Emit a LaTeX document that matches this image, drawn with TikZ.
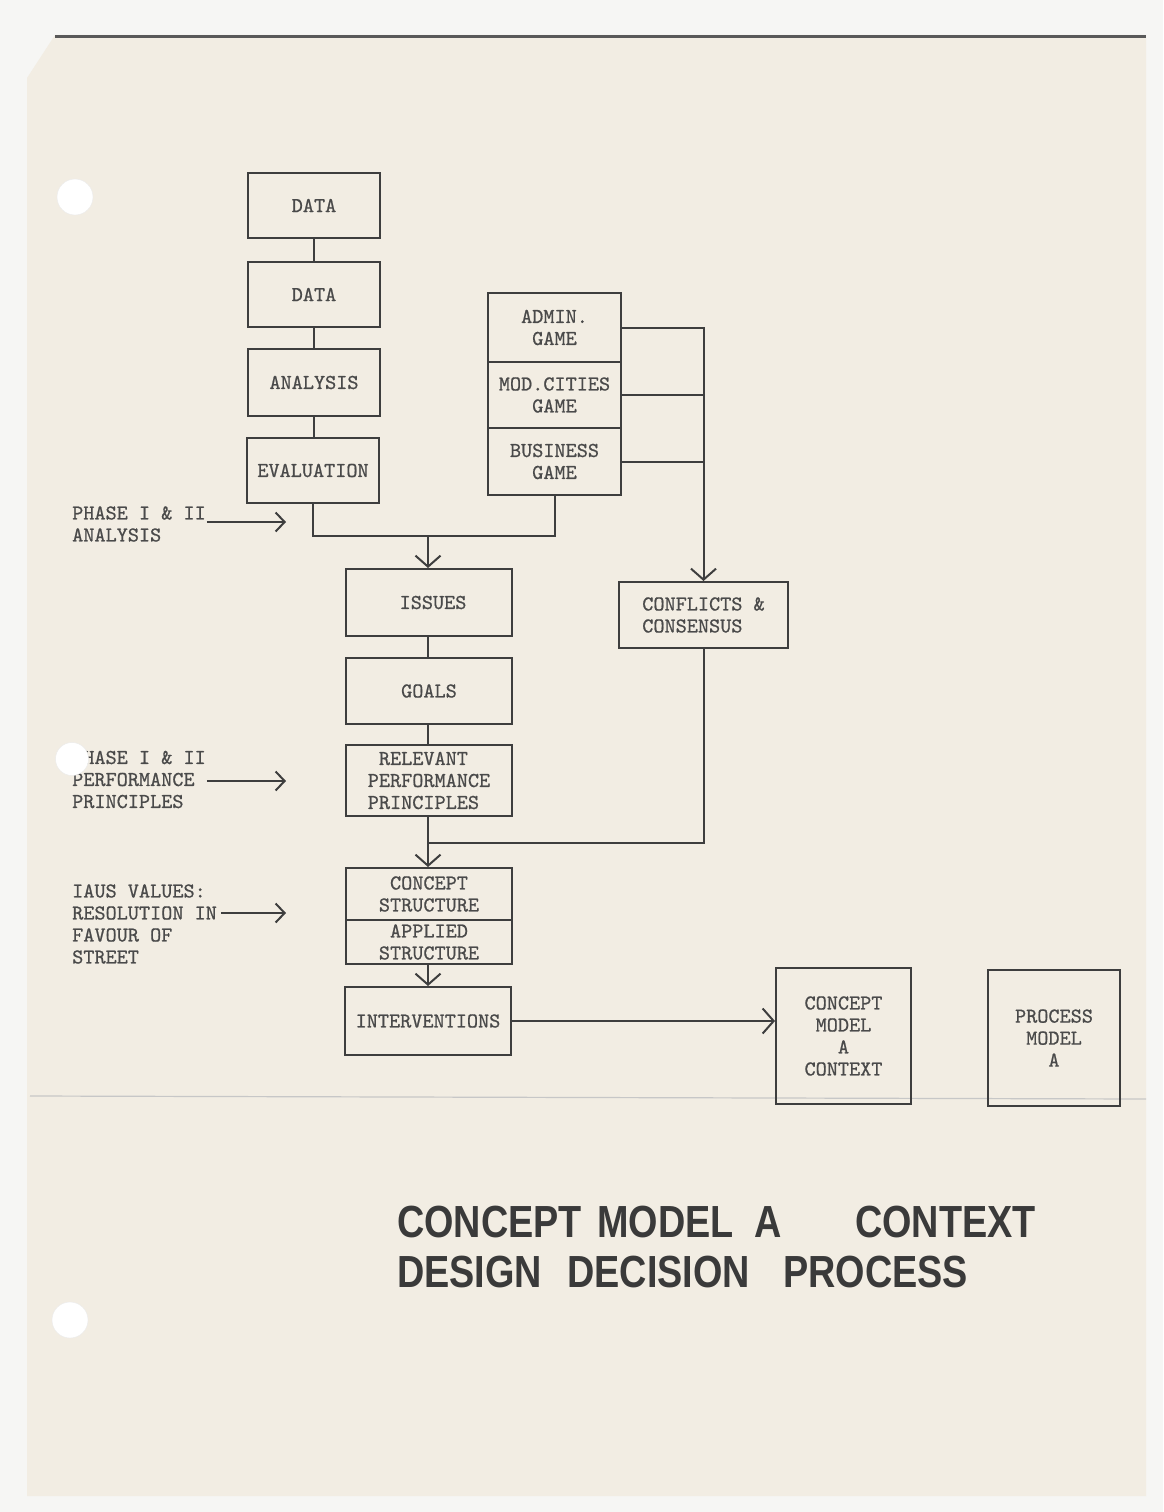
\documentclass[tikz,border=0pt]{standalone}
\usepackage{fontspec}
\newfontfamily\titlefont[FakeStretch=0.84]{Liberation Sans}
\newfontfamily\typefont[FakeBold=0.7]{lmmono10-regular.otf}
\usetikzlibrary{arrows.meta}
\definecolor{paper}{HTML}{F2EDE3}
\definecolor{outside}{HTML}{F6F6F4}
\definecolor{ink}{HTML}{3E3E3E}
\definecolor{tink}{HTML}{4A4A4A}
\definecolor{titleink}{HTML}{3A3A3A}
\newcommand\tyfnt{\typefont\fontsize{21.2}{22}\selectfont}
\begin{document}
\begin{tikzpicture}[x=1pt,y=-1pt,
  box/.style={draw=ink, line width=2pt, inner sep=0pt, align=center, font=\tyfnt, text=tink},
  ln/.style={draw=ink, line width=2pt},
  arr/.style={draw=ink, line width=2pt, -{Straight Barb[length=11pt,width=25pt]}},
  larr/.style={draw=ink, line width=2pt, -{Straight Barb[length=9pt,width=19pt]}},
  lbl/.style={font=\tyfnt, text=tink, align=left, inner sep=0pt, anchor=west},
  ttl/.style={font=\titlefont\bfseries\fontsize{45}{50}\selectfont, text=titleink, inner sep=0pt, anchor=base west}]
% page and paper
\useasboundingbox (0,0) rectangle (1163,1512);
\fill[outside] (0,0) rectangle (1163,1512);
\fill[paper] (55,35) -- (1146,35) -- (1146,1496) -- (27,1496) -- (27,78) -- cycle;
\draw[line width=3pt, color=black!65] (55,37) -- (1146,37);
\draw[line width=1.2pt, color=black!22] (30,1096) -- (1146,1099);
% left column
\node[box, minimum width=132pt, minimum height=65pt] (d1) at (314,205.5) {DATA};
\node[box, minimum width=132pt, minimum height=65pt] (d2) at (314,294.5) {DATA};
\node[box, minimum width=132pt, minimum height=67pt] (an) at (314,382.5) {ANALYSIS};
\node[box, minimum width=132pt, minimum height=65pt] (ev) at (313,470.5) {EVALUATION};
% games stack
\node[box, minimum width=133pt, minimum height=69pt] (g1) at (554.5,327.5) {ADMIN.\\GAME};
\node[box, minimum width=133pt, minimum height=66pt] (g2) at (554.5,395) {MOD.CITIES\\GAME};
\node[box, minimum width=133pt, minimum height=67pt] (g3) at (554.5,461.5) {BUSINESS\\GAME};
% middle column
\node[box, minimum width=166pt, minimum height=67pt] (iss) at (429,602.5) {\hspace*{8pt}ISSUES};
\node[box, minimum width=166pt, minimum height=66pt] (gl) at (429,691) {GOALS};
\node[box, minimum width=166pt, minimum height=71pt, align=left] (rel) at (429,780.5) {\hspace*{0.525em}RELEVANT\\PERFORMANCE\\PRINCIPLES};
\node[box, minimum width=166pt, minimum height=52pt] (cs) at (429,894) {CONCEPT\\STRUCTURE};
\node[box, minimum width=166pt, minimum height=44pt] (as) at (429,942) {APPLIED\\STRUCTURE};
\node[box, minimum width=166pt, minimum height=68pt] (int) at (428,1021) {INTERVENTIONS};
% right column
\node[box, minimum width=169pt, minimum height=66pt, align=left] (cf) at (703.5,615) {CONFLICTS \&\\CONSENSUS};
\node[box, minimum width=135pt, minimum height=136pt] (cm) at (843.5,1036) {CONCEPT\\MODEL\\A\\CONTEXT};
\node[box, minimum width=132pt, minimum height=136pt] (pm) at (1054,1038) {PROCESS\\MODEL\\A};
% left labels
\node[lbl] (l1) at (72,524) {PHASE I \& II\\ANALYSIS};
\node[lbl] (l2) at (72,779.5) {PHASE I \& II\\PERFORMANCE\\PRINCIPLES};
\node[lbl] (l3) at (72,924) {IAUS VALUES:\\RESOLUTION IN\\FAVOUR OF\\STREET};
\coordinate (a1) at (286,522);
\coordinate (a2) at (286,781);
\coordinate (a3) at (286,913);
\draw[larr] ([xshift=1pt]l1.east |- a1) -- (a1);
\draw[larr] ([xshift=1pt]l2.east |- a2) -- (a2);
\draw[larr] ([xshift=4pt]l3.east |- a3) -- (a3);
% connectors
\coordinate (m1) at (428,536);
\coordinate (m2) at (428,843);
\draw[ln] (d1) -- (d2);
\draw[ln] (d2) -- (an);
\draw[ln] (an.south) -- (an.south |- ev.north);
\draw[ln] (ev.south) -- (ev.south |- m1) -- (g3.south |- m1) -- (g3.south);
\draw[arr] (m1) -- (m1 |- iss.north);
\draw[ln] (iss.south -| m1) -- (gl.north -| m1);
\draw[ln] (gl.south -| m1) -- (rel.north -| m1);
\draw[arr] (g1.east) -| (cf.north);
\draw[ln] (g2.east) -- (g2.east -| cf.north);
\draw[ln] (g3.east) -- (g3.east -| cf.north);
\draw[ln] (cf.south) |- (m2);
\draw[arr] (rel.south -| m2) -- (cs.north -| m2);
\draw[arr] (as.south -| int.north) -- (int.north);
\draw[arr] (int.east) -- (int.east -| cm.west);
% punch holes
\fill[white, draw=black!8] (75,197) circle (18);
\fill[white, draw=black!8] (72,759) circle (16.5);
\fill[white, draw=black!8] (70,1320) circle (18);
% title
\node[ttl] (t1) at (397,1237) {CONCEPT};
\node[ttl] (t2) at (597,1237) {MODEL \hspace{10pt}A};
\node[ttl] (t3) at (855,1237) {CONTEXT};
\node[ttl] (t4) at (397,1287) {DESIGN};
\node[ttl] (t5) at (567,1287) {DECISION};
\node[ttl] (t6) at (783,1287) {PROCESS};
\end{tikzpicture}
\end{document}
